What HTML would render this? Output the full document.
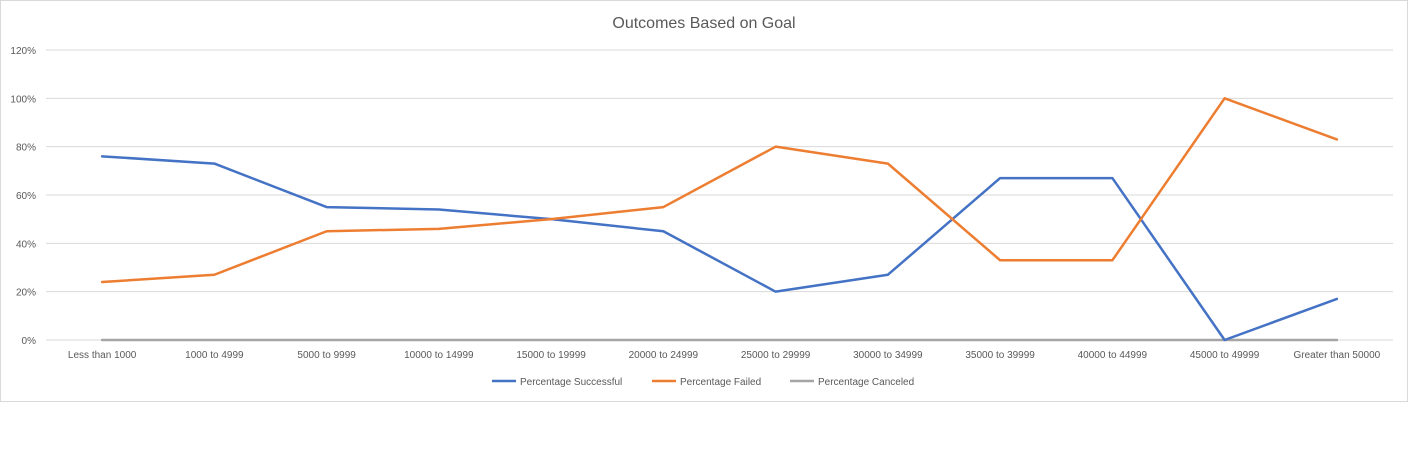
<!DOCTYPE html>
<html><head><meta charset="utf-8"><style>
body{margin:0;background:#fff;width:1408px;height:460px;overflow:hidden;font-family:"Liberation Sans",sans-serif}
svg text{font-family:"Liberation Sans",sans-serif}
</style></head><body>
<svg id="chart" width="1408" height="460" xmlns="http://www.w3.org/2000/svg">
<rect x="0.5" y="0.5" width="1407" height="401" fill="#fff" stroke="#d9d9d9"/>
<text x="704" y="28" text-anchor="middle" font-size="16" fill="#595959">Outcomes Based on Goal</text>
<g id="grid"></g><g id="series"></g><g id="legend"></g>
</svg>
<script>
const categories=["Less than 1000","1000 to 4999","5000 to 9999","10000 to 14999","15000 to 19999","20000 to 24999","25000 to 29999","30000 to 34999","35000 to 39999","40000 to 44999","45000 to 49999","Greater than 50000"];
const successful=[76,73,55,54,50,45,20,27,67,67,0,17];
const failed=[24,27,45,46,50,55,80,73,33,33,100,83];
const canceled=[0,0,0,0,0,0,0,0,0,0,0,0];
const yTicks=[0,20,40,60,80,100,120];
const NS="http://www.w3.org/2000/svg";
const plotLeft=46,plotRight=1393,plotTop=50,plotBottom=340;
const bw=(plotRight-plotLeft)/categories.length;
const xPos=i=>plotLeft+bw*(i+0.5);
const yPos=v=>plotBottom-(v/120)*(plotBottom-plotTop);
const grid=document.getElementById('grid');
function mk(t,a,p){const e=document.createElementNS(NS,t);for(const k in a)e.setAttribute(k,a[k]);p.appendChild(e);return e;}
yTicks.forEach(v=>{
 const l=mk('line',{x1:plotLeft,x2:plotRight,y1:yPos(v),y2:yPos(v),stroke:'#d9d9d9','stroke-width':1},grid);
 
 
 const t=mk('text',{x:36,y:yPos(v)+4,'text-anchor':'end','font-size':10,fill:'#595959'},grid);
 t.textContent=v+'%';
 
 
});
categories.forEach((c,i)=>{
 const t=mk('text',{x:xPos(i),y:358,'text-anchor':'middle','font-size':10,fill:'#595959'},grid);
 t.textContent=c;
 
 
});
const ser=document.getElementById('series');
const defs=[["canceled",canceled,"#a5a5a5"],["successful",successful,"#4472c4"],["failed",failed,"#ed7d31"]];
defs.forEach(([n,d,c])=>{
 const p=mk('polyline',{points:d.map((v,i)=>xPos(i)+','+yPos(v)).join(' '),fill:'none',stroke:c,'stroke-width':2.5,'stroke-linejoin':'round','stroke-linecap':'round'},ser);
 
 
});
const leg=document.getElementById('legend');
[["Percentage Successful","#4472c4",492],["Percentage Failed","#ed7d31",652],["Percentage Canceled","#a5a5a5",790]].forEach(([n,c,lx])=>{
 const g=mk('g',{},leg);
 
 
 mk('line',{x1:lx,x2:lx+24,y1:381,y2:381,stroke:c,'stroke-width':2.5},g);
 const t=mk('text',{x:lx+28,y:385,'font-size':10,fill:'#595959'},g);
 t.textContent=n;
});
</script>
</body></html>
